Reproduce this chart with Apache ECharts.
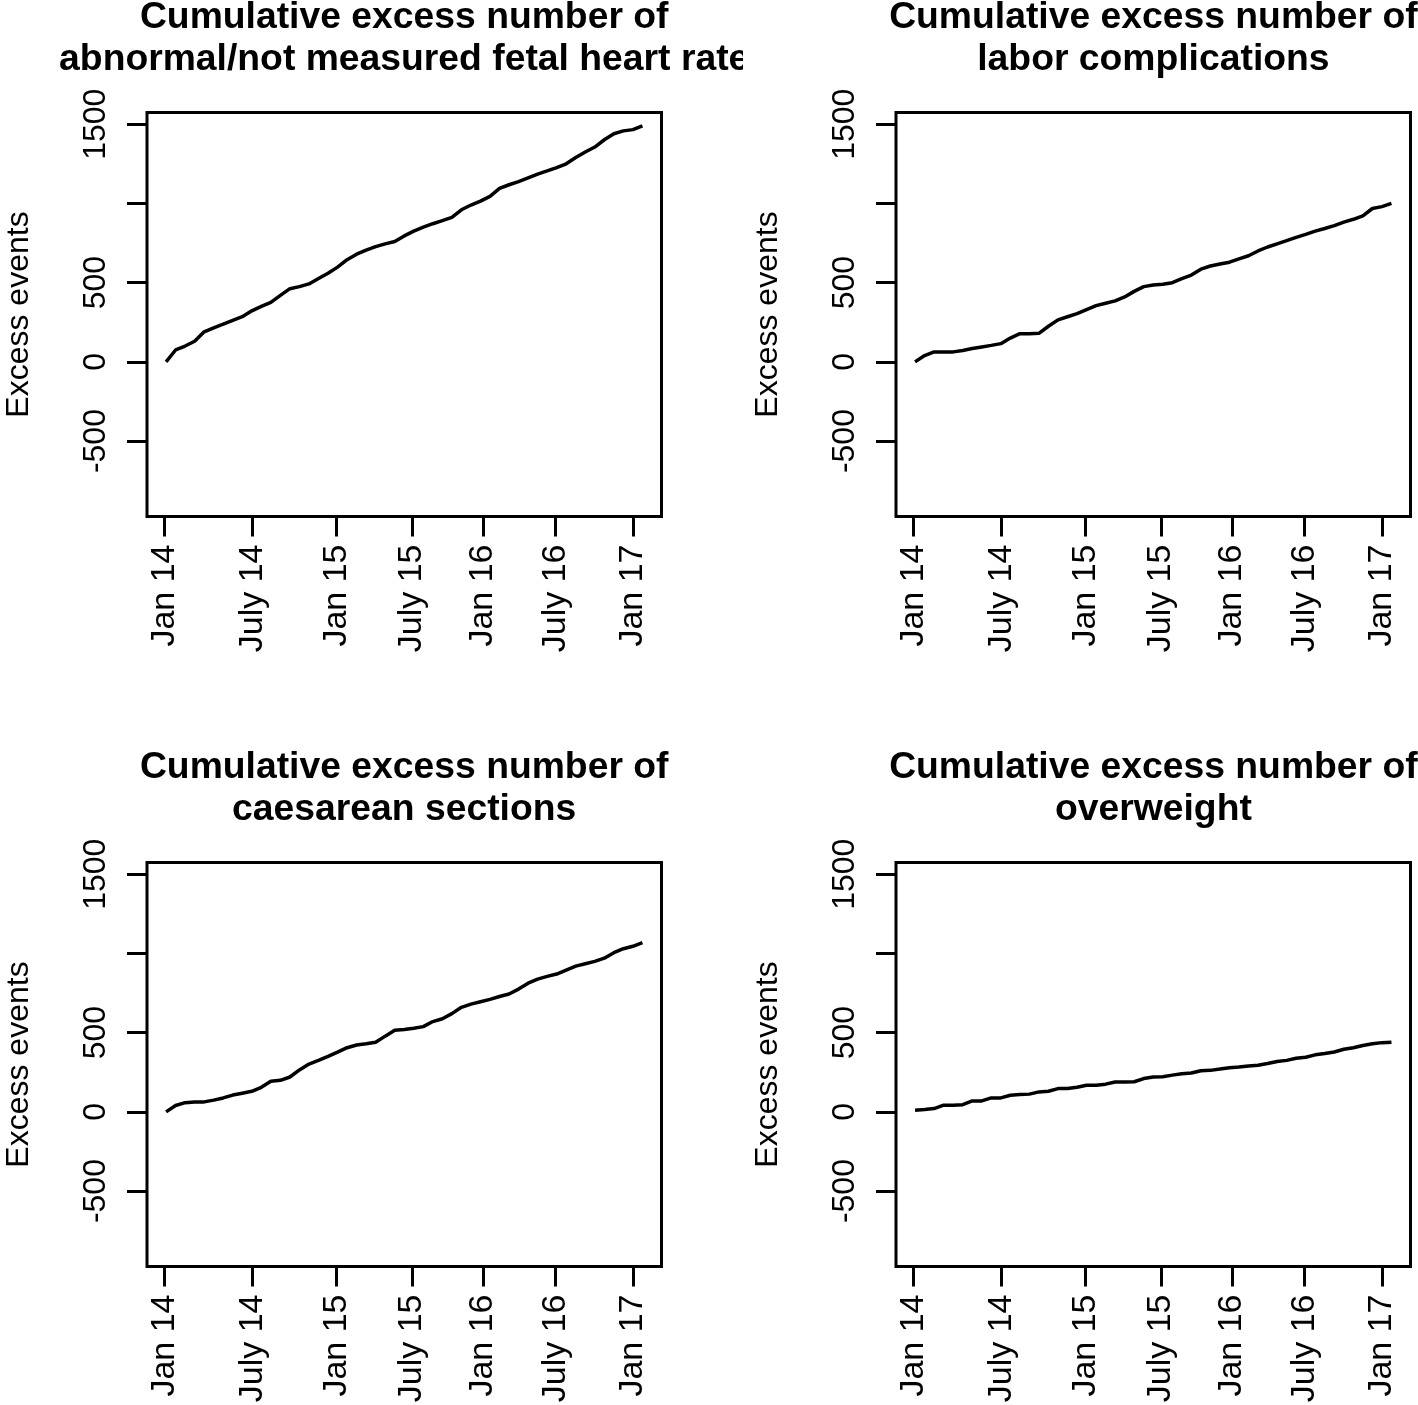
<!DOCTYPE html>
<html><head><meta charset="utf-8">
<script src="https://cdn.jsdelivr.net/npm/echarts@6/dist/echarts.min.js"></script>
<style>
html,body{margin:0;padding:0;background:#fff;}
#wrap{position:relative;width:1418px;height:1405px;overflow:hidden;background:#fff;}
#left{position:absolute;left:0;top:0;width:743px;height:1405px;}
#right{position:absolute;left:743px;top:0;width:675px;height:1405px;}
</style></head><body>
<div id="wrap"><div id="left"></div><div id="right"></div></div>
<script>
// x: position along the observation sequence (0 = start, 100 = end)
const xIndex = [0,2,4,6,8,10,12,14,16,18,20,22,24,26,28,30,32,34,36,38,40,42,44,46,48,50,52,54,56,58,60,62,64,66,68,70,72,74,76,78,80,82,84,86,88,90,92,94,96,98,100];

const fetalHeartRate = [0,75,100,130,190,215,238,262,285,322,350,376,420,462,475,492,526,560,598,645,680,705,727,745,760,795,825,850,872,892,912,960,990,1015,1045,1095,1118,1138,1162,1185,1205,1226,1250,1290,1325,1356,1402,1440,1458,1466,1490];

const laborComplications = [0,40,63,63,63,72,84,94,104,115,150,178,178,180,225,265,285,305,330,355,370,385,410,445,475,485,490,500,525,548,585,605,618,629,650,670,700,725,745,765,786,805,825,842,860,882,900,922,968,980,1000];

const caesareanSections = [0,40,58,62,63,74,88,106,118,130,155,193,199,220,265,302,325,350,377,405,422,430,440,478,515,520,528,538,570,588,620,660,680,695,710,728,744,775,812,838,855,870,895,920,935,950,970,1005,1030,1045,1068];

const overweight = [10,15,21,42,42,45,69,69,88,88,105,109,112,126,130,147,147,155,168,168,175,189,189,190,210,220,222,232,241,245,260,262,270,279,283,290,294,305,318,325,338,345,360,368,378,395,405,419,430,437,440];

const xTickPos = [-0.3,18.1,35.8,51.6,66.5,81.7,98.0];
const xTickLabels = ['Jan 14','July 14','Jan 15','July 15','Jan 16','July 16','Jan 17'];
const yTickValues = [-500,0,500,1000,1500];
const yTickLabelValues = [-500,0,500,1500];

const titleLine1 = 'Cumulative excess number of';
const titleLine2 = ['abnormal/not measured fetal heart rate','labor complications','caesarean sections','overweight'];
const yAxisTitle = 'Excess events';

const FONT = 'Liberation Sans';

function xLabel(v){
  for (let i=0;i<xTickPos.length;i++){ if (Math.abs(xTickPos[i]-v)<1e-6) return xTickLabels[i]; }
  return '';
}
function yLabel(v){ return String(v); }

function buildOption(panels, boxLeft, centerX){
  const grids=[], xAxes=[], yAxes=[], series=[], graphic=[];
  panels.forEach((p,i)=>{
    const top = i===0 ? 112.5 : 862.5;
    grids.push({left:boxLeft, top:top, width:514.5, height:404, show:true,
      borderColor:'#000', borderWidth:3, backgroundColor:'transparent',
      containLabel:false, outerBoundsMode:'none'});
    xAxes.push({type:'value', gridIndex:i, min:-4, max:104, position:'bottom',
      axisLine:{show:false, onZero:false}, splitLine:{show:false},
      axisTick:{show:true, length:20, lineStyle:{color:'#000', width:3}, customValues:xTickPos},
      axisLabel:{show:true, customValues:xTickPos, formatter:xLabel, rotate:90, margin:28,
        fontSize:34, fontFamily:FONT, color:'#000'}});
    yAxes.push({type:'value', gridIndex:i, min:-976, max:1574, position:'left',
      axisLine:{show:false, onZero:false}, splitLine:{show:false},
      axisTick:{show:true, length:20, lineStyle:{color:'#000', width:3}, customValues:yTickValues},
      axisLabel:{show:true, customValues:yTickLabelValues, formatter:yLabel, rotate:90, margin:35,
        fontSize:32, fontFamily:FONT, color:'#000'},
      name:yAxisTitle, nameLocation:'middle', nameRotate:90, nameGap:112,
      nameTextStyle:{fontSize:32, fontFamily:FONT, color:'#000'}});
    series.push({type:'line', xAxisIndex:i, yAxisIndex:i, showSymbol:false, symbol:'none',
      animation:false, lineStyle:{color:'#000', width:3.5},
      data:xIndex.map((x,k)=>[x,p.values[k]])});
    graphic.push({type:'text', x:centerX, y:(i===0?-3:747), silent:true,
      style:{text:titleLine1+'\n'+p.line2, fontSize:37.3, fontWeight:'bold', fontFamily:FONT,
        fill:'#000', align:'center', verticalAlign:'top', lineHeight:42}});
  });
  return {animation:false, backgroundColor:'#fff', grid:grids, xAxis:xAxes, yAxis:yAxes, series:series, graphic:graphic};
}

const leftChart = echarts.init(document.getElementById('left'), null, {renderer:'canvas'});
leftChart.setOption(buildOption([
  {line2:titleLine2[0], values:fetalHeartRate},
  {line2:titleLine2[2], values:caesareanSections}
], 147, 404.2));

const rightChart = echarts.init(document.getElementById('right'), null, {renderer:'canvas'});
rightChart.setOption(buildOption([
  {line2:titleLine2[1], values:laborComplications},
  {line2:titleLine2[3], values:overweight}
], 153, 410.4));
</script>
</body></html>
